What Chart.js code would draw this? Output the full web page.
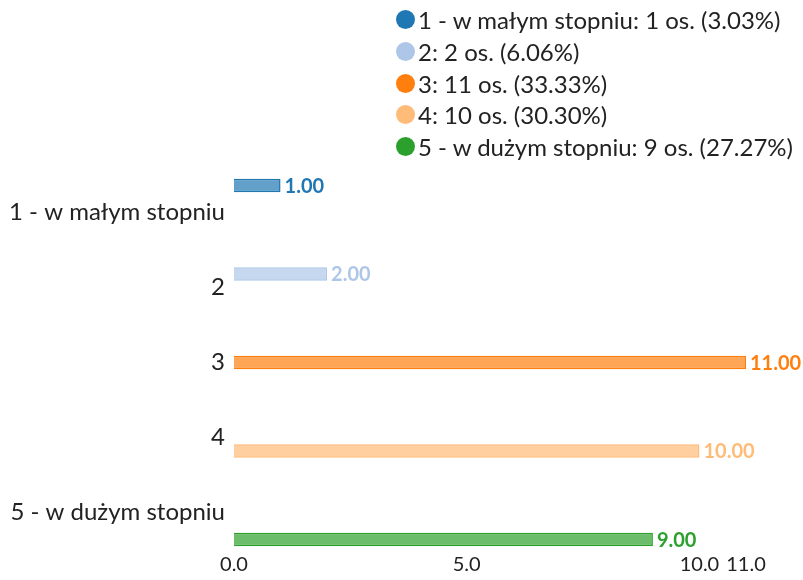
<!DOCTYPE html>
<html>
<head>
<meta charset="utf-8">
<script src="https://cdn.jsdelivr.net/npm/chart.js@4"></script>
<style>
  html, body { margin: 0; padding: 0; background: #fff; }
  #wrap { position: relative; width: 803px; height: 580px; }
  #legend { position: absolute; left: 396px; top: 4px; font-family: Lato, sans-serif; font-size: 24px; color: #222; }
  #legend .item { height: 31.7px; display: flex; align-items: center; white-space: nowrap; }
  #legend .dot { width: 19px; height: 19px; border-radius: 50%; margin-right: 3px; flex: none; }
</style>
</head>
<body>
<div id="wrap">
  <canvas id="barChart" width="803" height="580"></canvas>
  <div id="legend"></div>
</div>
<script>
const categories = ["1 - w małym stopniu", "2", "3", "4", "5 - w dużym stopniu"];
const counts = [1, 2, 11, 10, 9];
const colors = ["#1f77b4", "#aec7e8", "#ff7f0e", "#ffbb78", "#2ca02c"];
const fills = ["rgba(31,119,180,0.7)", "rgba(174,199,232,0.7)", "rgba(255,127,14,0.7)", "rgba(255,187,120,0.7)", "rgba(44,160,44,0.7)"];
const xTicks = [0, 5, 10, 11];

const total = counts.reduce((a, b) => a + b, 0);
const fontFamily = "Lato, sans-serif";

// legend built from the data
const legend = document.getElementById("legend");
categories.forEach((cat, i) => {
  const pct = (counts[i] / total * 100).toFixed(2);
  const row = document.createElement("div");
  row.className = "item";
  row.innerHTML = '<span class="dot" style="background:' + colors[i] + '"></span>' +
    cat + ": " + counts[i] + " os. (" + pct + "%)";
  legend.appendChild(row);
});

// one dataset per category so every bar sits in its own slot
const datasets = categories.map((cat, i) => ({
  label: cat,
  data: categories.map((c, j) => (j === i ? counts[i] : null)),
  backgroundColor: fills[i],
  borderColor: colors[i],
  borderWidth: 1.5
}));

const valueLabels = {
  id: "valueLabels",
  afterDatasetsDraw(chart) {
    const ctx = chart.ctx;
    ctx.save();
    ctx.font = "bold 20px " + fontFamily;
    ctx.textBaseline = "middle";
    ctx.textAlign = "left";
    chart.data.datasets.forEach((ds, i) => {
      const meta = chart.getDatasetMeta(i);
      meta.data.forEach((bar, j) => {
        const v = ds.data[j];
        if (v === null) return;
        ctx.fillStyle = colors[i];
        ctx.fillText(v.toFixed(2), bar.x + 4, bar.y + 1);
      });
    });
    ctx.restore();
  }
};

window.onload = () => {
  const ctx = document.getElementById("barChart").getContext("2d");
  new Chart(ctx, {
    type: "bar",
    data: { labels: categories, datasets: datasets },
    plugins: [valueLabels],
    options: {
      indexAxis: "y",
      responsive: false,
      animation: false,
      layout: { padding: { top: 175, right: 57, left: 0, bottom: 0 } },
      datasets: { bar: { categoryPercentage: 0.9, barPercentage: 1.0 } },
      plugins: {
        legend: { display: false },
        tooltip: { enabled: false }
      },
      scales: {
        x: {
          min: 0,
          max: 11,
          grid: { display: false, drawTicks: false },
          border: { display: false },
          afterBuildTicks: (scale) => { scale.ticks = xTicks.map(v => ({ value: v })); },
          ticks: {
            autoSkip: false,
            maxRotation: 0,
            padding: 3,
            color: "#222",
            font: { family: fontFamily, size: 20 },
            callback: (v) => Number(v).toFixed(1)
          }
        },
        y: {
          grid: { display: false, drawTicks: false },
          border: { display: false },
          afterFit: (scale) => { scale.width = 234; },
          ticks: {
            padding: 9,
            color: "#222",
            font: { family: fontFamily, size: 24 }
          }
        }
      }
    }
  });
};
</script>
</body>
</html>
